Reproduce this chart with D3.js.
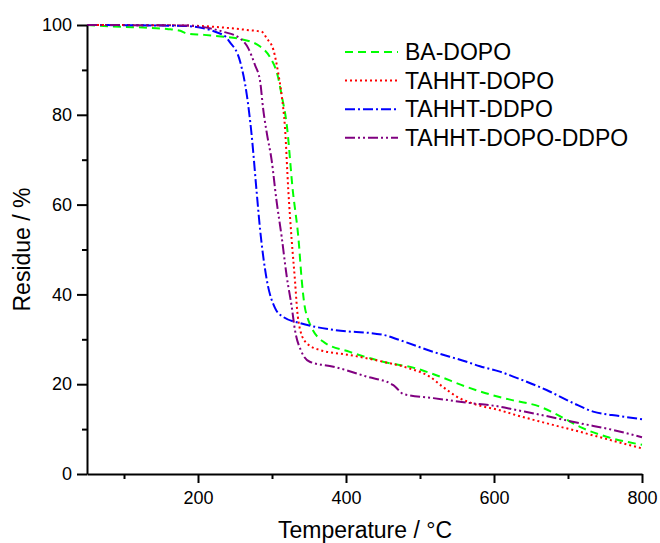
<!DOCTYPE html>
<html>
<head>
<meta charset="utf-8">
<script src="https://cdn.jsdelivr.net/npm/d3@7"></script>
<style>
  body { margin: 0; background: #fff; }
  svg { font-family: Arial, "Liberation Sans", sans-serif; }
  .axis text { font-size: 18px; fill: #000; }
  .axis path, .axis line { stroke: #000; stroke-width: 2; }
</style>
</head>
<body>
<div id="chart"></div>
<script>
// TGA curves
const seriesNames = ["BA-DOPO", "TAHHT-DOPO", "TAHHT-DDPO", "TAHHT-DOPO-DDPO"];

const tempBA = [50, 95, 131, 158, 176, 185, 208, 220, 257, 284, 297, 308, 313, 320, 328, 336, 340, 344, 348, 354, 369, 405, 450, 495, 522, 563, 581, 606, 626, 662, 689, 716, 752, 800];
const resBA  = [100, 99.6, 99.4, 99.1, 98.7, 98.1, 97.8, 97.6, 96.9, 95.2, 92.9, 88.5, 84.4, 77.7, 63.3, 52.0, 43.5, 37.5, 34.8, 32.4, 29.5, 27.2, 25.0, 23.5, 22.0, 19.4, 18.4, 17.2, 16.4, 15.0, 12.9, 10.5, 8.3, 6.5];

const tempT1 = [50, 180, 221, 266, 286, 293, 302, 308.5, 313, 317.6, 322, 326.6, 331, 334, 338, 347, 365, 405, 450, 486, 513, 531, 550, 577, 608, 626, 671, 716, 761, 800];
const resT1  = [100, 99.9, 99.6, 98.9, 98.5, 97.0, 94.4, 89.2, 84.4, 77.0, 63.3, 52.1, 43.2, 36.5, 32.1, 29.1, 27.6, 26.5, 25.0, 23.5, 21.7, 19.4, 17.2, 15.4, 14.2, 13.3, 11.3, 9.4, 7.4, 5.7];

const tempT2 = [50, 180, 234, 243, 257, 266, 272.5, 279, 284, 293, 304, 315, 338, 383, 450, 473, 518, 563, 581, 608, 626, 671, 707, 734, 770, 800];
const resT2  = [100, 99.8, 97.8, 96.2, 91.8, 84.4, 75.5, 63.3, 54.3, 43.2, 37.0, 35.0, 33.6, 32.1, 31.0, 29.8, 27.2, 25.0, 24.0, 22.8, 21.7, 18.7, 15.8, 13.9, 12.9, 12.2];

const tempT3 = [50, 180, 234, 257, 268, 277, 284, 288, 293, 299.5, 306, 313, 320, 326.6, 331, 340, 351, 383, 428, 464, 471, 477.5, 518, 563, 608, 626, 671, 716, 761, 800];
const resT3  = [100, 99.9, 98.5, 97.0, 94.8, 91.1, 87.4, 81.4, 75.9, 69.9, 61.0, 52.9, 43.9, 37.3, 32.1, 27.2, 25.0, 23.9, 21.7, 19.8, 18.7, 17.8, 16.9, 15.9, 15.0, 14.4, 12.9, 11.3, 9.8, 8.2];

const xMajor = [200, 400, 600, 800];
const xMinor = [100, 300, 500, 700];
const yMajor = [0, 20, 40, 60, 80, 100];
const yMinor = [10, 30, 50, 70, 90];

const colors = ["#00ff00", "#ff0000", "#0000ff", "#800080"];
const dashes = ["8,5", "2,3", "10,3,2,3", "10,3,2,3,2,3"];

const W = 660, H = 543;
const margin = { top: 25, right: 18, bottom: 69, left: 87 };

const svg = d3.select("#chart").append("svg")
  .attr("width", W)
  .attr("height", H);

const x = d3.scaleLinear().domain([50, 800]).range([margin.left, W - margin.right]);
const y = d3.scaleLinear().domain([0, 100]).range([H - margin.bottom, margin.top]);

const series = [
  { name: seriesNames[0], t: tempBA, r: resBA },
  { name: seriesNames[1], t: tempT1, r: resT1 },
  { name: seriesNames[2], t: tempT2, r: resT2 },
  { name: seriesNames[3], t: tempT3, r: resT3 }
].map((s, i) => ({
  name: s.name,
  color: colors[i],
  dash: dashes[i],
  values: s.t.map((t, j) => ({ t: t, r: s.r[j] }))
}));

const line = d3.line()
  .x(d => x(d.t))
  .y(d => y(d.r))
  .curve(d3.curveMonotoneX);

svg.append("g").selectAll("path")
  .data(series)
  .join("path")
  .attr("d", d => line(d.values))
  .attr("fill", "none")
  .attr("stroke", d => d.color)
  .attr("stroke-width", 2)
  .attr("stroke-dasharray", d => d.dash);

// minor ticks
svg.append("g")
  .attr("class", "axis")
  .attr("transform", `translate(0,${y(0)})`)
  .call(d3.axisBottom(x).tickValues(xMinor).tickSize(5).tickFormat(""))
  .call(g => g.select(".domain").remove());

svg.append("g")
  .attr("class", "axis")
  .attr("transform", `translate(${x(50)},0)`)
  .call(d3.axisLeft(y).tickValues(yMinor).tickSize(5).tickFormat(""))
  .call(g => g.select(".domain").remove());

// major axes
svg.append("g")
  .attr("class", "axis")
  .attr("transform", `translate(0,${y(0)})`)
  .call(d3.axisBottom(x).tickValues(xMajor).tickSize(9).tickSizeOuter(0).tickPadding(8));

svg.append("g")
  .attr("class", "axis")
  .attr("transform", `translate(${x(50)},0)`)
  .call(d3.axisLeft(y).tickValues(yMajor).tickSize(10).tickSizeOuter(0).tickPadding(5));

// axis titles
svg.append("text")
  .attr("x", 365)
  .attr("y", 538)
  .attr("text-anchor", "middle")
  .attr("font-size", 23)
  .text("Temperature / °C");

svg.append("text")
  .attr("transform", `translate(30,${(y(0) + y(100)) / 2}) rotate(-90)`)
  .attr("text-anchor", "middle")
  .attr("font-size", 23)
  .text("Residue / %");

// legend
const legend = svg.append("g").attr("transform", "translate(345,52)");
const item = legend.selectAll("g")
  .data(series)
  .join("g")
  .attr("transform", (d, i) => `translate(0,${i * 28.6})`);

item.append("line")
  .attr("x1", 0).attr("x2", 53)
  .attr("stroke", d => d.color)
  .attr("stroke-width", 2)
  .attr("stroke-dasharray", d => d.dash);

item.append("text")
  .attr("x", 60)
  .attr("y", 8)
  .attr("font-size", 23)
  .text(d => d.name);
</script>
</body>
</html>
